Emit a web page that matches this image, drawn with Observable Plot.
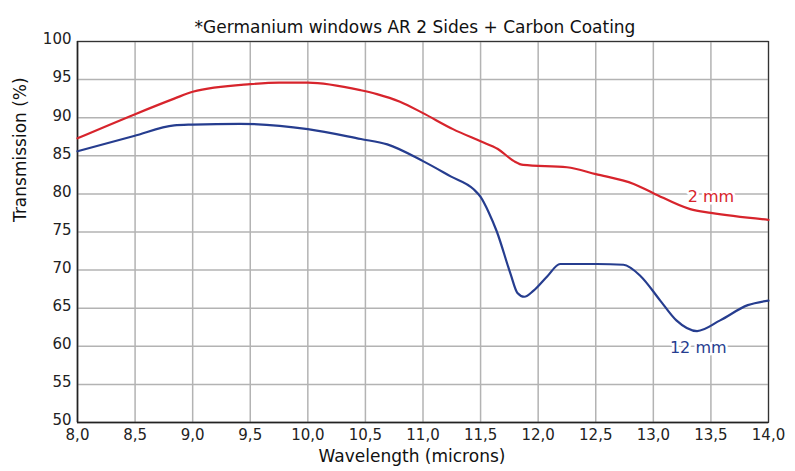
<!DOCTYPE html>
<html>
<head>
<meta charset="utf-8">
<script src="https://cdn.jsdelivr.net/npm/d3@7"></script>
<script src="https://cdn.jsdelivr.net/npm/@observablehq/plot@0.6"></script>
<style>
  body { margin: 0; background: #fff; }
  #chart svg { display: block; }
</style>
</head>
<body>
<div id="chart"></div>
<script>
const title = "*Germanium windows AR 2 Sides + Carbon Coating";
const xLabel = "Wavelength (microns)";
const yLabel = "Transmission (%)";

const xTicks = [8, 8.5, 9, 9.5, 10, 10.5, 11, 11.5, 12, 12.5, 13, 13.5, 14];
const yTicks = [50, 55, 60, 65, 70, 75, 80, 85, 90, 95, 100];

// 2 mm curve
const wl2 = [8.0, 8.49, 8.84, 9.0, 9.5, 9.75, 10.0, 10.46, 10.6, 10.8, 11.0, 11.26, 11.5, 11.65, 11.79, 11.87, 12.25, 12.5, 12.83, 13.0, 13.32, 13.5, 14.0];
const tr2 = [87.3, 90.4, 92.5, 93.4, 94.4, 94.6, 94.6, 93.6, 93.1, 92.1, 90.6, 88.5, 86.9, 85.9, 84.3, 83.8, 83.5, 82.6, 81.3, 80.1, 78.0, 77.5, 76.6];

// 12 mm curve
const wl12 = [8.0, 8.49, 8.84, 9.0, 9.41, 10.0, 10.46, 10.69, 11.0, 11.24, 11.44, 11.5, 11.57, 11.64, 11.76, 11.82, 11.88, 11.96, 12.08, 12.19, 12.51, 12.74, 12.89, 13.06, 13.2, 13.38, 13.58, 13.82, 14.0];
const tr12 = [85.6, 87.6, 89.0, 89.1, 89.2, 88.5, 87.2, 86.5, 84.3, 82.3, 80.6, 79.6, 77.6, 75.1, 69.5, 67.0, 66.5, 67.3, 69.2, 70.8, 70.8, 70.7, 69.2, 66.0, 63.4, 62.0, 63.4, 65.4, 66.0];

const seriesLabels = [
  {name: "2 mm", x: 13.5, y: 79.6, color: "#d7242c"},
  {name: "12 mm", x: 13.39, y: 59.8, color: "#263d8f"}
];

const d2 = wl2.map((w, i) => ({w, t: tr2[i]}));
const d12 = wl12.map((w, i) => ({w, t: tr12[i]}));

const font = "'DejaVu Sans', sans-serif";
const fmt = d => d.toFixed(1).replace(".", ",");

const chart = Plot.plot({
  width: 795,
  height: 471,
  marginTop: 41,
  marginBottom: 49,
  marginLeft: 77,
  marginRight: 27,
  style: {fontFamily: font, fontSize: "14px", color: "#222", background: "#fff"},
  x: {domain: [8, 14], ticks: xTicks, tickFormat: fmt},
  y: {domain: [50, 100], ticks: yTicks},
  marks: [
    Plot.gridX(xTicks, {stroke: "#b3b3b3", strokeOpacity: 1, strokeWidth: 1.5}),
    Plot.gridY(yTicks, {stroke: "#b3b3b3", strokeOpacity: 1, strokeWidth: 1.5}),
    Plot.frame({stroke: "#333", strokeWidth: 1.2}),
    Plot.axisX({ticks: xTicks, tickFormat: fmt, tickSize: 0, tickPadding: 7, label: null, fontSize: 15}),
    Plot.axisY({ticks: yTicks, tickSize: 0, tickPadding: 6, label: null, fontSize: 15, dy: -2}),
    Plot.ruleX([8], {stroke: "#222", strokeWidth: 1.5}),
    Plot.ruleY([50], {stroke: "#222", strokeWidth: 1.5}),
    Plot.line(d2, {x: "w", y: "t", stroke: seriesLabels[0].color, strokeWidth: 2.2, curve: "monotone-x"}),
    Plot.line(d12, {x: "w", y: "t", stroke: seriesLabels[1].color, strokeWidth: 2.2, curve: "monotone-x"}),
    Plot.text(seriesLabels, {x: "x", y: "y", text: "name", fill: "color", stroke: "white", strokeWidth: 5, fontSize: 16}),
    Plot.text([title], {frameAnchor: "top", dx: -8, dy: -21, fontSize: 17, fill: "#111"}),
    Plot.text([xLabel], {frameAnchor: "bottom", dx: -11, dy: 39, fontSize: 17, fill: "#111"}),
    Plot.text([yLabel], {frameAnchor: "left", dx: -57, dy: -10, rotate: -90, fontSize: 17, fill: "#111"})
  ]
});
document.getElementById("chart").append(chart);
</script>
</body>
</html>
